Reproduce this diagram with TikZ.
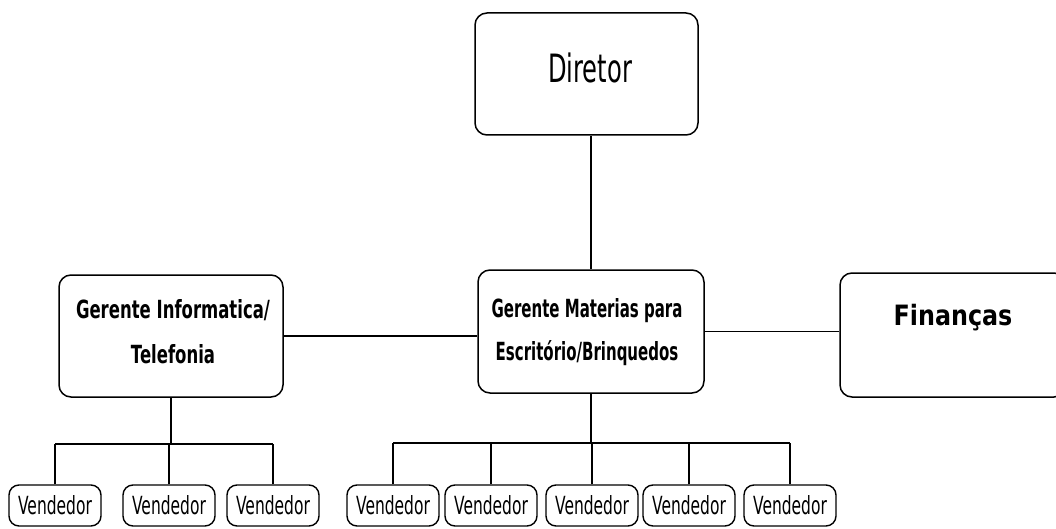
\documentclass[tikz,border=0pt]{standalone}
\usepackage{fontspec}
\newfontfamily\hand{DejaVu Sans}[FakeStretch=0.62]
\newfontfamily\handb{DejaVu Sans Bold}[FakeStretch=0.66]
\newfontfamily\handbn{DejaVu Sans Bold}[FakeStretch=0.60]
\newfontfamily\roundb{DejaVu Sans Bold}[FakeStretch=0.85]
\tikzset{
  orgbox/.style={draw, line width=1.5pt, rounded corners=12pt, inner sep=0pt},
  salesbox/.style={draw, line width=1.4pt, rounded corners=10pt, inner sep=0pt,
    minimum width=92pt, minimum height=41pt,
    font=\hand\fontsize{25}{28}\selectfont},
  link/.style={line width=1.4pt},
  boxtext/.style={inner sep=0pt, align=center}
}
\begin{document}
\begin{tikzpicture}[x=1pt,y=-1pt]
\useasboundingbox (0,0) rectangle (1056,529);

% upper levels
\node[orgbox, minimum width=223pt, minimum height=122pt] (dir) at (586.5,74) {};
\node[boxtext, anchor=base, font=\hand\fontsize{39}{42}\selectfont] (dirT) at (590,83) {Diretor};

\node[orgbox, minimum width=224pt, minimum height=122pt] (gi) at (171,336) {};
\node[boxtext, font=\handb\fontsize{25}{45}\selectfont] (giT) at (173,332)
  {Gerente Informatica/\\Telefonia};

\node[orgbox, minimum width=226pt, minimum height=123pt] (mid) at (591,331.5) {};
\node[boxtext, font=\handbn\fontsize{25}{43}\selectfont] (midT) at (587,332)
  {Gerente Materias para\\Escritório/Brinquedos};

\node[orgbox, minimum width=226pt, minimum height=124pt] (fin) at (953,335) {};
\node[boxtext, anchor=base, font=\roundb\fontsize{28}{30}\selectfont] (finT) at (953,325) {Finanças};

% connectors between the managers
\draw[link] (gi.east) -- (gi.east -| mid.west);
\draw[link] (mid.east) -- (mid.east -| fin.west);
\draw[link] (mid.north) -- (mid.north |- dir.south);

% sellers
\node[salesbox] (v1) at (55,505.5) {Vendedor};
\node[salesbox] (v2) at (169,505.5) {Vendedor};
\node[salesbox] (v3) at (273,505.5) {Vendedor};
\node[salesbox] (v4) at (393,505.5) {Vendedor};
\node[salesbox] (v5) at (491,505.5) {Vendedor};
\node[salesbox] (v6) at (592,505.5) {Vendedor};
\node[salesbox] (v7) at (689,505.5) {Vendedor};
\node[salesbox] (v8) at (790,505.5) {Vendedor};

\coordinate (busA) at (171,444);
\coordinate (busB) at (591,443);

\draw[link] (gi.south) -- (gi.south |- busA);
\draw[link] (v1.north |- busA) -- (v3.north |- busA);
\foreach \v in {v1,v2,v3}
  \draw[link] (\v.north) -- (\v.north |- busA);

\draw[link] (mid.south) -- (mid.south |- busB);
\draw[link] (v4.north |- busB) -- (v8.north |- busB);
\foreach \v in {v4,v5,v6,v7,v8}
  \draw[link] (\v.north) -- (\v.north |- busB);
\end{tikzpicture}
\end{document}
